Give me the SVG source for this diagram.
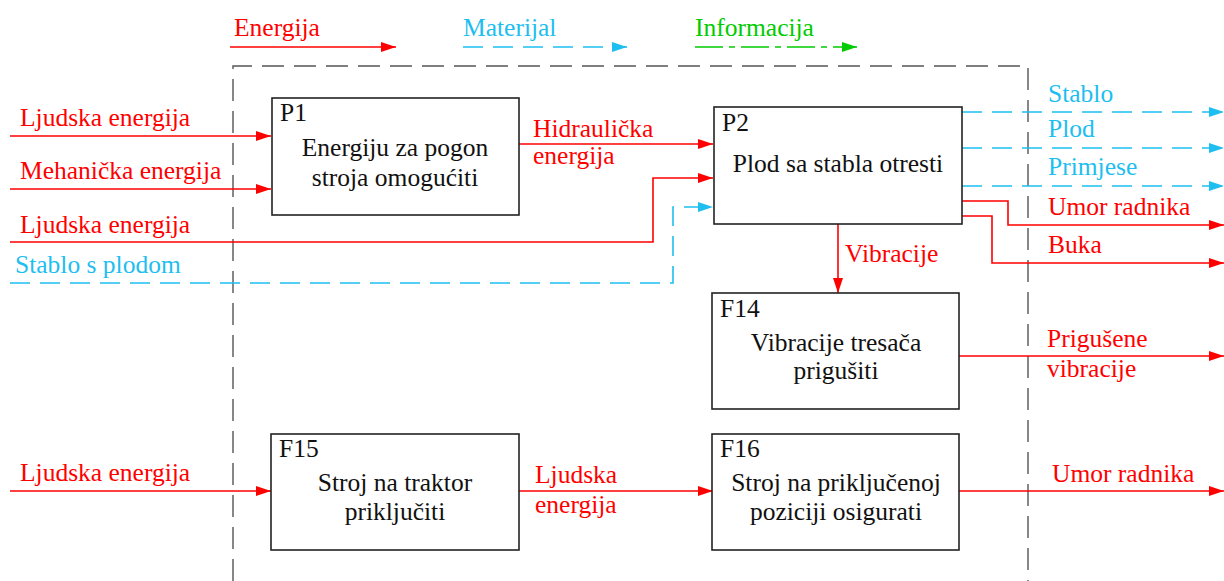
<svg xmlns="http://www.w3.org/2000/svg" width="1224" height="581" viewBox="0 0 1224 581">
<style>
text{font-family:"Liberation Serif","Times New Roman",serif;font-size:25.5px}
.k{fill:#111}
.r{fill:#ff0000}
.b{fill:#1ebef0}
.g{fill:#00cc00}
.box{fill:#fff;stroke:#222;stroke-width:1.6}
.er{fill:none;stroke:#ff0000;stroke-width:1.6}
.eb{fill:none;stroke:#1ebef0;stroke-width:1.6;stroke-dasharray:20 10}
.eg{fill:none;stroke:#00cc00;stroke-width:1.6;stroke-dasharray:28 6 6 6}
.bd{fill:none;stroke:#555;stroke-width:1.4;stroke-dasharray:22 10}
.c{text-anchor:middle}
</style>
<defs>
<marker id="ar" markerUnits="userSpaceOnUse" markerWidth="16" markerHeight="10" refX="15" refY="5" orient="auto"><path d="M0,0 L15,5 L0,10 Z" fill="#ff0000"/></marker>
<marker id="ab" markerUnits="userSpaceOnUse" markerWidth="16" markerHeight="10" refX="15" refY="5" orient="auto"><path d="M0,0 L15,5 L0,10 Z" fill="#1ebef0"/></marker>
<marker id="ag" markerUnits="userSpaceOnUse" markerWidth="16" markerHeight="10" refX="15" refY="5" orient="auto"><path d="M0,0 L15,5 L0,10 Z" fill="#00cc00"/></marker>
</defs>
<rect width="1224" height="581" fill="#fff"/>

<g id="legend">
<text class="r" x="234" y="36">Energija</text>
<line class="er" x1="230" y1="47" x2="396" y2="47" marker-end="url(#ar)"/>
<text class="b" x="463" y="36">Materijal</text>
<line class="eb" x1="463" y1="47" x2="627" y2="47" marker-end="url(#ab)"/>
<text class="g" x="695" y="36">Informacija</text>
<line class="eg" x1="695" y1="47" x2="857" y2="47" marker-end="url(#ag)"/>
</g>

<g id="boundary">
<path class="bd" d="M233,581 L233,66 L1028,66 L1028,581"/>
</g>

<g id="connectors">
<line class="er" x1="10" y1="136" x2="271" y2="136" marker-end="url(#ar)"/>
<line class="er" x1="10" y1="189" x2="271" y2="189" marker-end="url(#ar)"/>
<polyline class="er" points="10,242 653,242 653,178 713,178" marker-end="url(#ar)"/>
<polyline class="eb" points="10,283 673,283 673,207 713,207" marker-end="url(#ab)"/>
<line class="er" x1="519" y1="144" x2="713" y2="144" marker-end="url(#ar)"/>
<line class="eb" x1="962" y1="112" x2="1224" y2="112" marker-end="url(#ab)"/>
<line class="eb" x1="962" y1="148" x2="1224" y2="148" marker-end="url(#ab)"/>
<line class="eb" x1="962" y1="186" x2="1224" y2="186" marker-end="url(#ab)"/>
<polyline class="er" points="962,201 1008,201 1008,225 1224,225" marker-end="url(#ar)"/>
<polyline class="er" points="962,216 992,216 992,263 1224,263" marker-end="url(#ar)"/>
<line class="er" x1="838" y1="224" x2="838" y2="293" marker-end="url(#ar)"/>
<line class="er" x1="959" y1="356" x2="1224" y2="356" marker-end="url(#ar)"/>
<line class="er" x1="10" y1="491" x2="271" y2="491" marker-end="url(#ar)"/>
<line class="er" x1="519" y1="491" x2="713" y2="491" marker-end="url(#ar)"/>
<line class="er" x1="959" y1="491" x2="1224" y2="491" marker-end="url(#ar)"/>
</g>

<g id="labels">
<text class="r" x="20" y="126">Ljudska energija</text>
<text class="r" x="20" y="179">Mehanička energija</text>
<text class="r" x="20" y="233">Ljudska energija</text>
<text class="b" x="15" y="273">Stablo s plodom</text>
<text class="r" x="533" y="137">Hidraulička</text>
<text class="r" x="533" y="164">energija</text>
<text class="b" x="1048" y="102">Stablo</text>
<text class="b" x="1048" y="137">Plod</text>
<text class="b" x="1048" y="175">Primjese</text>
<text class="r" x="1048" y="215">Umor radnika</text>
<text class="r" x="1048" y="253">Buka</text>
<text class="r" x="845" y="262">Vibracije</text>
<text class="r" x="1047" y="347">Prigušene</text>
<text class="r" x="1047" y="377">vibracije</text>
<text class="r" x="20" y="481">Ljudska energija</text>
<text class="r" x="535" y="483">Ljudska</text>
<text class="r" x="535" y="513">energija</text>
<text class="r" x="1052" y="482">Umor radnika</text>
</g>

<g id="P1">
<rect class="box" x="272" y="98" width="247" height="117"/>
<text class="k" x="280" y="121">P1</text>
<text class="k c" x="395" y="156">Energiju za pogon</text>
<text class="k c" x="395" y="186">stroja omogućiti</text>
</g>
<g id="P2">
<rect class="box" x="714" y="107" width="248" height="117"/>
<text class="k" x="722" y="131">P2</text>
<text class="k c" x="838" y="172">Plod sa stabla otresti</text>
</g>
<g id="F14">
<rect class="box" x="712" y="293" width="247" height="116"/>
<text class="k" x="720" y="317">F14</text>
<text class="k c" x="836" y="351">Vibracije tresača</text>
<text class="k c" x="836" y="379">prigušiti</text>
</g>
<g id="F15">
<rect class="box" x="271" y="434" width="248" height="116"/>
<text class="k" x="279" y="457">F15</text>
<text class="k c" x="395" y="491">Stroj na traktor</text>
<text class="k c" x="395" y="520">priključiti</text>
</g>
<g id="F16">
<rect class="box" x="712" y="434" width="247" height="116"/>
<text class="k" x="720" y="457">F16</text>
<text class="k c" x="836" y="491">Stroj na priključenoj</text>
<text class="k c" x="836" y="520">poziciji osigurati</text>
</g>
</svg>
